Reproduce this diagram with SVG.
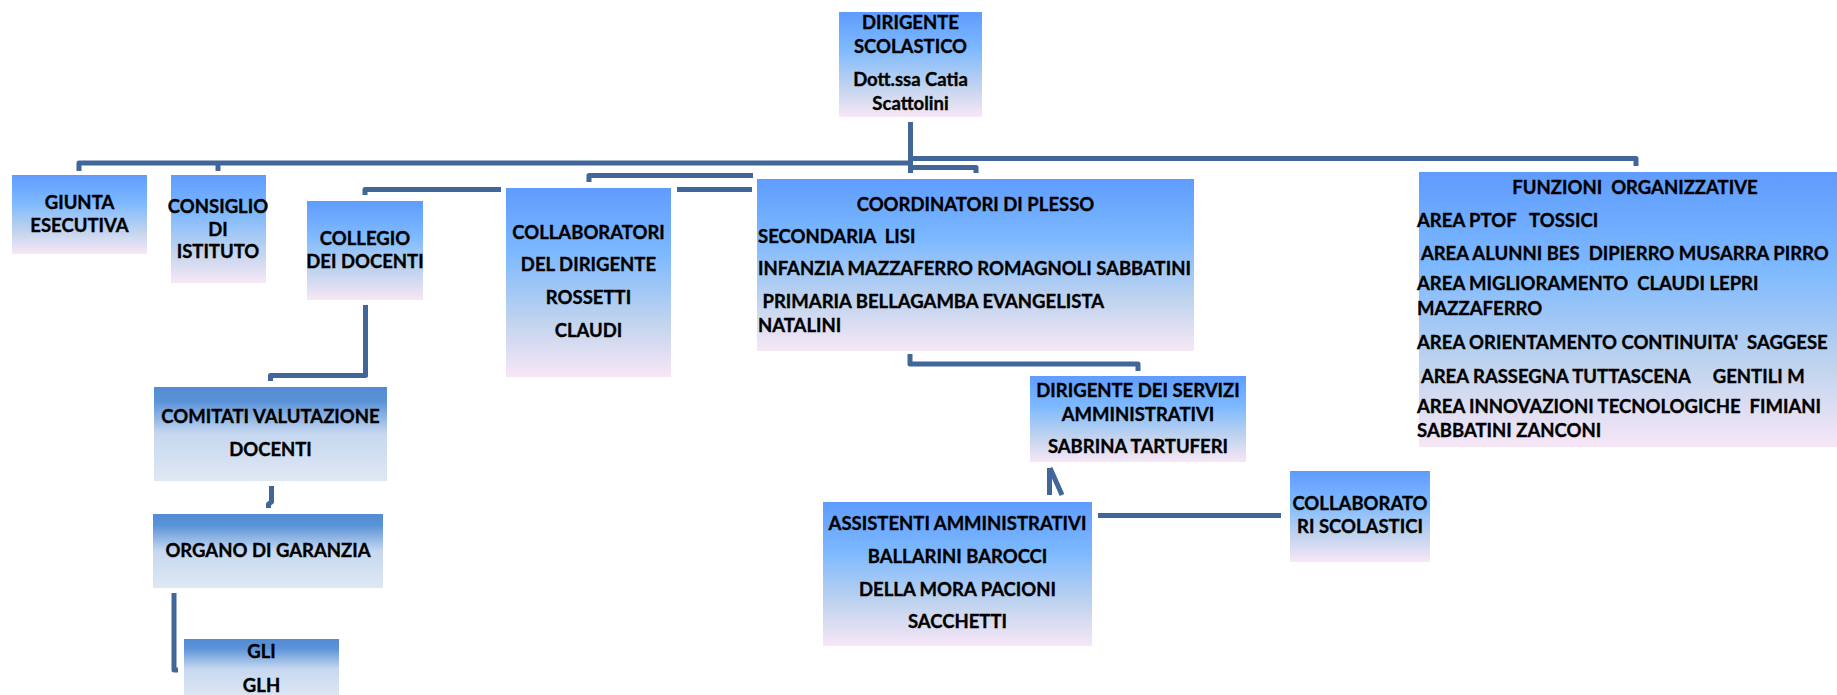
<svg xmlns="http://www.w3.org/2000/svg" width="1837" height="695" viewBox="0 0 1837 695">
<defs>
<linearGradient id="gA" x1="0" y1="0" x2="0" y2="1">
<stop offset="0" stop-color="#5f9cfd"/>
<stop offset="0.35" stop-color="#7db9ff"/>
<stop offset="0.7" stop-color="#bfd3ee"/>
<stop offset="1" stop-color="#f7e7f6"/>
</linearGradient>
<linearGradient id="gB" x1="0" y1="0" x2="0" y2="1">
<stop offset="0" stop-color="#538cd4"/>
<stop offset="0.15" stop-color="#5a92d8"/>
<stop offset="0.5" stop-color="#c6d8f0"/>
<stop offset="1" stop-color="#dfe8f4"/>
</linearGradient>
<style>
.ba{fill:url(#gA);}
.bb{fill:url(#gB);}
text{font-family:Lato,"Liberation Sans",sans-serif;font-weight:bold;font-size:18.5px;fill:#000;stroke:#000;stroke-width:0.35px;white-space:pre;}
.m{text-anchor:middle;}
.cn{fill:none;stroke:#41679a;stroke-width:5;stroke-linejoin:round;}
</style>
</defs>
<g id="connectors">
<path class="cn" d="M910.5,122 L910.5,173"/>
<path class="cn" d="M79,171 L79,163 L910,163"/>
<path class="cn" d="M218,163 L218,171"/>
<path class="cn" d="M910,158.5 L1636,158.5 L1636,166"/>
<path class="cn" d="M910,167.5 L976,167.5 L976,173"/>
<path class="cn" d="M589,182 L589,175.5 L753,175.5"/>
<path class="cn" d="M365,195 L365,189.5 L501,189.5"/>
<path class="cn" d="M677,189.5 L752,189.5"/>
<path class="cn" d="M365.5,305 L365.5,375.5 L270.5,375.5 L270.5,381"/>
<path class="cn" d="M271.5,486 L271.5,502 L268.5,504 L268.5,508"/>
<path class="cn" d="M174,593 L174,670 L178,670"/>
<path class="cn" d="M910,354 L910,364 L1138,364 L1138,371"/>
<path class="cn" d="M1049.5,468 L1049.5,495 M1050,468 L1062,495"/>
<path class="cn" d="M1098,515.5 L1281,515.5"/>
</g>
<g id="dirigente">
<rect class="ba" x="839" y="12" width="143" height="105"/>
<text class="m" x="910.5" y="29">DIRIGENTE</text>
<text class="m" x="910.5" y="53">SCOLASTICO</text>
<text class="m" x="910.5" y="86">Dott.ssa Catia</text>
<text class="m" x="910.5" y="110">Scattolini</text>
</g>
<g id="giunta">
<rect class="ba" x="12" y="175" width="135" height="79"/>
<text class="m" x="79.5" y="209">GIUNTA</text>
<text class="m" x="79.5" y="232">ESECUTIVA</text>
</g>
<g id="consiglio">
<rect class="ba" x="171" y="175" width="95" height="108"/>
<text class="m" x="218" y="213">CONSIGLIO</text>
<text class="m" x="218" y="236">DI</text>
<text class="m" x="218" y="258">ISTITUTO</text>
</g>
<g id="collegio">
<rect class="ba" x="307" y="201" width="116" height="99"/>
<text class="m" x="365" y="245">COLLEGIO</text>
<text class="m" x="365" y="268">DEI DOCENTI</text>
</g>
<g id="collaboratori">
<rect class="ba" x="506" y="188" width="165" height="189"/>
<text class="m" x="588.5" y="239">COLLABORATORI</text>
<text class="m" x="588.5" y="271">DEL DIRIGENTE</text>
<text class="m" x="588.5" y="304">ROSSETTI</text>
<text class="m" x="588.5" y="337">CLAUDI</text>
</g>
<g id="coordinatori">
<rect class="ba" x="757" y="179" width="437" height="172"/>
<text class="m" x="975.5" y="211">COORDINATORI DI PLESSO</text>
<text x="758" y="243">SECONDARIA  LISI</text>
<text x="758" y="275">INFANZIA MAZZAFERRO ROMAGNOLI SABBATINI</text>
<text x="758" y="308"> PRIMARIA BELLAGAMBA EVANGELISTA</text>
<text x="758" y="332">NATALINI</text>
</g>
<g id="funzioni">
<rect class="ba" x="1419" y="172" width="418" height="275"/>
<text class="m" x="1635" y="194">FUNZIONI  ORGANIZZATIVE</text>
<text x="1417" y="227">AREA PTOF   TOSSICI</text>
<text x="1417" y="260"> AREA ALUNNI BES  DIPIERRO MUSARRA PIRRO</text>
<text x="1417" y="290">AREA MIGLIORAMENTO  CLAUDI LEPRI</text>
<text x="1417" y="315">MAZZAFERRO</text>
<text x="1417" y="349">AREA ORIENTAMENTO CONTINUITA'  SAGGESE</text>
<text x="1417" y="383"> AREA RASSEGNA TUTTASCENA     GENTILI M</text>
<text x="1417" y="413">AREA INNOVAZIONI TECNOLOGICHE  FIMIANI</text>
<text x="1417" y="437">SABBATINI ZANCONI</text>
</g>
<g id="comitati">
<rect class="bb" x="154" y="387" width="233" height="94"/>
<text class="m" x="270.5" y="423">COMITATI VALUTAZIONE</text>
<text class="m" x="270.5" y="456">DOCENTI</text>
</g>
<g id="organo">
<rect class="bb" x="153" y="514" width="230" height="74"/>
<text class="m" x="268" y="557">ORGANO DI GARANZIA</text>
</g>
<g id="gli">
<rect class="bb" x="184" y="639" width="155" height="60"/>
<text class="m" x="261.5" y="658">GLI</text>
<text class="m" x="261.5" y="692">GLH</text>
</g>
<g id="dsga">
<rect class="ba" x="1030" y="376" width="216" height="86"/>
<text class="m" x="1138" y="397">DIRIGENTE DEI SERVIZI</text>
<text class="m" x="1138" y="421">AMMINISTRATIVI</text>
<text class="m" x="1138" y="453">SABRINA TARTUFERI</text>
</g>
<g id="assistenti">
<rect class="ba" x="823" y="502" width="269" height="144"/>
<text class="m" x="957.5" y="530">ASSISTENTI AMMINISTRATIVI</text>
<text class="m" x="957.5" y="563">BALLARINI BAROCCI</text>
<text class="m" x="957.5" y="596">DELLA MORA PACIONI</text>
<text class="m" x="957.5" y="628">SACCHETTI</text>
</g>
<g id="collaboratori-scolastici">
<rect class="ba" x="1290" y="471" width="140" height="91"/>
<text class="m" x="1360" y="510">COLLABORATO</text>
<text class="m" x="1360" y="533">RI SCOLASTICI</text>
</g>
</svg>
